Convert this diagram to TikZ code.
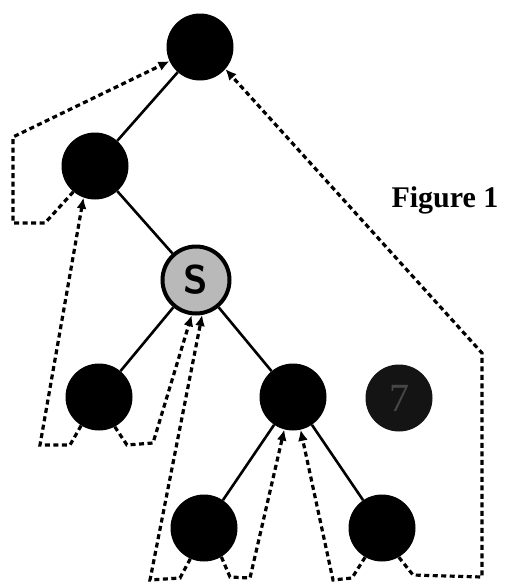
\documentclass[tikz,border=0pt]{standalone}
\usepackage{fontspec}
\setmainfont{Liberation Serif}
\usetikzlibrary{arrows.meta}

\begin{document}
\begin{tikzpicture}
[
    x=1pt, y=1pt,
    level 1/.style={level distance=119pt, sibling distance=210pt},
    level 2/.style={level distance=114pt, sibling distance=202pt},
    level 3/.style={level distance=117pt, sibling distance=194pt},
    level 4/.style={level distance=131pt, sibling distance=178pt},
    vertex/.style={circle, fill=black, minimum size=67pt, inner sep=0pt},
    edge from parent/.style={draw, line width=2.6pt},
    thread/.style={dash pattern=on 5pt off 3.5pt, line width=3.2pt, -{Latex[length=11pt,width=10pt]}},
]
\useasboundingbox (0,0) rectangle (505,-584);
\node [vertex] (root) at (200,-47) {}
    child {node [vertex] (a) {}
        child [missing]
        child {node [vertex, fill=gray!55, draw=black, line width=4pt] (s)
{\sffamily\bfseries\fontsize{40}{40}\selectfont S}
            child {node [vertex] (b) {}}
            child {node [vertex] (c) {}
                child {node [vertex] (d) {}}
                child {node [vertex] (e) {}}
}}}
    child [missing];
\node [vertex, fill=black!92, text=black!72] (seven) at (399,-398)
{\fontsize{40}{40}\selectfont 7};
\node (caption) at (445,-200) {\bfseries\fontsize{30}{30}\selectfont Figure 1};
% threads
\draw [thread] (a.-130) -- (45,-223) -- (13,-223) -- (13,-137) -- (root.-155);
\draw [thread] (b.-122) -- (70,-445) -- (40,-445) -- (a.-110);
\draw [thread] (b.-62) -- (127,-445) -- (153,-443) -- (s.-97);
\draw [thread] (d.-114) -- (180,-578) -- (150,-580) -- (s.-80);
\draw [thread] (d.-59) -- (230,-577) -- (250,-578) -- (c.-105);
\draw [thread] (e.-120) -- (352,-578) -- (333,-580) -- (c.-77);
\draw [thread] (e.-60) -- (413,-575) -- (482,-577) -- (482,-353) -- (root.-41);
\end{tikzpicture}
\end{document}
